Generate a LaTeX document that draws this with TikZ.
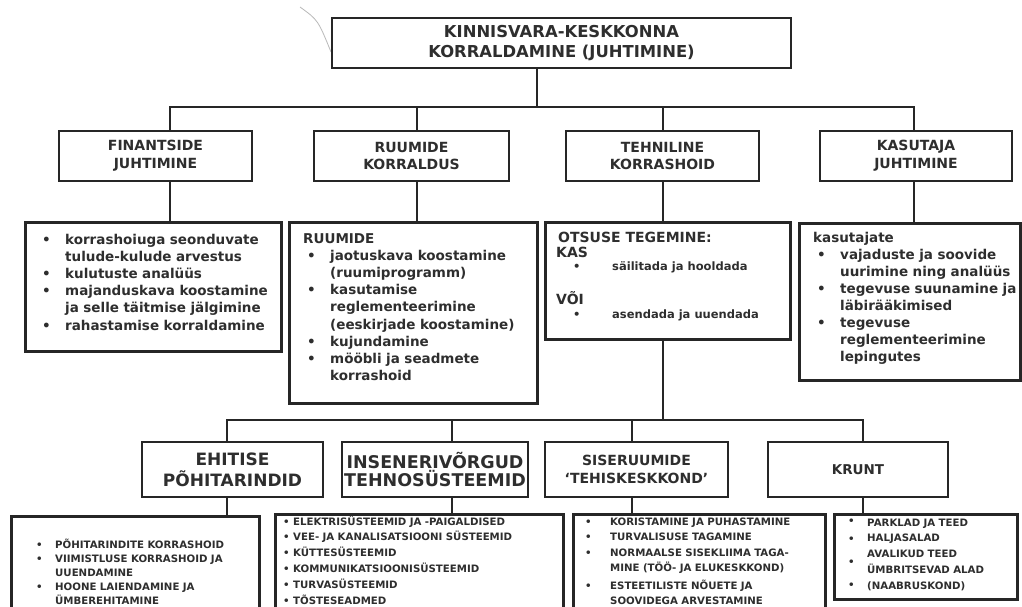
\documentclass[tikz,border=0pt]{standalone}
\usepackage{fontspec}
\setmainfont{DejaVu Sans}
\definecolor{ink}{HTML}{262626}
\definecolor{txt}{HTML}{2E2E2E}
\newlength\myind
\newlength\bulx
\newcommand\bz[1]{\hangindent=\myind\hangafter=1\noindent\makebox[\myind][l]{\hspace{\bulx}\textbullet}#1}
\newcommand\bi[1]{\par\bz{#1}}
\begin{document}
\begin{tikzpicture}[x=1pt,y=-1pt,
  box/.style={draw=ink, line width=2.7pt, rectangle, inner sep=0pt, fill=white},
  conn/.style={draw=ink, line width=2.7pt},
  hd/.style={text=txt, align=center, font=\bfseries\fontsize{14}{17.7}\selectfont},
  lt/.style={text=txt, inner sep=0pt, anchor=base west, align=left},
  lfont/.style={font=\bfseries\fontsize{13.5}{17.2}\selectfont},
  sfont/.style={font=\bfseries\fontsize{10.2}{14}\selectfont},
]
\useasboundingbox[fill=white] (0,0) rectangle (1022,607);
% scanner stroke
\draw[gray!55, line width=0.8pt] (300,7) .. controls (318,20) .. (331,52);

% ---- bus coordinates
\coordinate (b0) at (537,107);
\coordinate (b1) at (170,107);
\coordinate (b2) at (417,107);
\coordinate (b3) at (663,107);
\coordinate (b4) at (914,107);
\coordinate (d0) at (663,420);
\coordinate (d1) at (227,420);
\coordinate (d2) at (452,420);
\coordinate (d3) at (632,420);
\coordinate (d4) at (863,420);

% ---- top
\node[box, minimum width=459pt, minimum height=50pt, text=txt, align=center,
  font=\bfseries\fontsize{16.4}{20}\selectfont] (top) at (561.5,43)
  {KINNISVARA-KESKKONNA\\KORRALDAMINE (JUHTIMINE)};

% ---- row 2 headers
\node[box, hd, minimum width=193pt, minimum height=50pt] (finh) at (155.5,156) {FINANTSIDE\\JUHTIMINE};
\node[box, hd, minimum width=195pt, minimum height=50pt] (rumh) at (411.5,156) {RUUMIDE\\KORRALDUS};
\node[box, hd, minimum width=193pt, minimum height=50pt] (tehh) at (662.5,156) {TEHNILINE\\KORRASHOID};
\node[box, hd, minimum width=192pt, minimum height=50pt] (kash) at (916,156) {KASUTAJA\\JUHTIMINE};

% ---- row 3 boxes
\node[box, anchor=north west, minimum width=256pt, minimum height=129pt] (finl) at (24,221) {};
\node[box, anchor=north west, minimum width=248pt, minimum height=181pt] (ruml) at (288,221) {};
\node[box, anchor=north west, minimum width=245pt, minimum height=117pt] (tehl) at (544,221) {};
\node[box, anchor=north west, minimum width=221pt, minimum height=157pt] (kasl) at (798,222) {};

% ---- row 4 headers
\node[box, text=txt, align=center, font=\bfseries\fontsize{17}{21}\selectfont,
  minimum width=181pt, minimum height=55pt] (ehh) at (232.5,469.5) {EHITISE\\PÕHITARINDID};
\node[box, text=txt, align=center, font=\bfseries\fontsize{17.5}{14}\selectfont,
  minimum width=186pt, minimum height=55pt] (insh) at (435,469.5) {INSENERIVÕRGUD\\TEHNOSÜSTEEMID};
\node[box, hd, minimum width=183pt, minimum height=55pt] (sish) at (636.5,469.5) {SISERUUMIDE\\‘TEHISKESKKOND’};
\node[box, hd, font=\bfseries\fontsize{13.5}{17}\selectfont,
  minimum width=180pt, minimum height=55pt] (kruh) at (858,469.5) {KRUNT};

% ---- row 5 boxes
\node[box, anchor=north west, minimum width=248pt, minimum height=120pt] (ehl) at (10,515) {};
\node[box, anchor=north west, minimum width=288pt, minimum height=120pt] (insl) at (274,513) {};
\node[box, anchor=north west, minimum width=252pt, minimum height=120pt] (sisl) at (572,513) {};
\node[box, anchor=north west, minimum width=183pt, minimum height=85pt] (krul) at (833,513) {};

% ---- connectors
\draw[conn] (top.south -| b0) -- (b0);
\draw[conn] (finh.north -| b1) -- (b1) -- (b4) -- (kash.north -| b4);
\draw[conn] (rumh.north -| b2) -- (b2);
\draw[conn] (tehh.north -| b3) -- (b3);
\draw[conn] (finh.south -| b1) -- (finl.north -| b1);
\draw[conn] (rumh.south -| b2) -- (ruml.north -| b2);
\draw[conn] (tehh.south -| b3) -- (tehl.north -| b3);
\draw[conn] (kash.south -| b4) -- (kasl.north -| b4);
\draw[conn] (tehl.south -| d0) -- (d0);
\draw[conn] (ehh.north -| d1) -- (d1) -- (d4) -- (kruh.north -| d4);
\draw[conn] (insh.north -| d2) -- (d2);
\draw[conn] (sish.north -| d3) -- (d3);
\draw[conn] (ehh.south -| d1) -- (ehl.north -| d1);
\draw[conn] (insh.south -| d2) -- (insl.north -| d2);
\draw[conn] (sish.south -| d3) -- (sisl.north -| d3);
\draw[conn] (kruh.south -| d4) -- (krul.north -| d4);

% ---- row 3 texts
\node[lt, lfont, text width=236pt] (fint) at (42,244) {\setlength\myind{23pt}\setlength\bulx{0pt}%
\bz{korrashoiuga seonduvate\newline tulude-kulude arvestus}%
\bi{kulutuste analüüs}%
\bi{majanduskava koostamine\newline ja selle täitmise jälgimine}%
\bi{rahastamise korraldamine}\par};

\node[lt, lfont, text width=230pt] (rumt) at (303,243) {\setlength\myind{27pt}\setlength\bulx{4pt}%
\noindent RUUMIDE%
\bi{jaotuskava koostamine\newline (ruumiprogramm)}%
\bi{kasutamise\newline reglementeerimine\newline (eeskirjade koostamine)}%
\bi{kujundamine}%
\bi{mööbli ja seadmete\newline korrashoid}\par};

\node[lt, font=\bfseries\fontsize{14}{16}\selectfont] (t1) at (558,242) {OTSUSE TEGEMINE:};
\node[lt, font=\bfseries\fontsize{14}{16}\selectfont] (t2) at (556,257) {KAS};
\node[lt, font=\bfseries\fontsize{11.5}{14}\selectfont] (t3) at (573,270) {\textbullet};
\node[lt, font=\bfseries\fontsize{11.5}{14}\selectfont] (t4) at (612,270) {säilitada ja hooldada};
\node[lt, font=\bfseries\fontsize{14}{16}\selectfont] (t5) at (556,304) {VÕI};
\node[lt, font=\bfseries\fontsize{11.5}{14}\selectfont] (t6) at (573,318) {\textbullet};
\node[lt, font=\bfseries\fontsize{11.5}{14}\selectfont] (t7) at (612,318) {asendada ja uuendada};

\node[lt, font=\bfseries\fontsize{13.5}{17}\selectfont, text width=205pt] (kast) at (813,242) {\setlength\myind{27pt}\setlength\bulx{4pt}%
\noindent kasutajate%
\bi{vajaduste ja soovide\newline uurimine ning analüüs}%
\bi{tegevuse suunamine ja\newline läbirääkimised}%
\bi{tegevuse\newline reglementeerimine\newline lepingutes}\par};

% ---- row 5 texts
\node[lt, sfont, text width=230pt] (eht) at (36,548) {\setlength\myind{19pt}\setlength\bulx{0pt}%
\bz{PÕHITARINDITE KORRASHOID}%
\bi{VIIMISTLUSE KORRASHOID JA\newline UUENDAMINE}%
\bi{HOONE LAIENDAMINE JA\newline ÜMBEREHITAMINE}\par};

\node[lt, font=\bfseries\fontsize{10.2}{15.8}\selectfont, text width=275pt] (inst) at (283,525) {\setlength\myind{10pt}\setlength\bulx{0pt}%
\bz{ELEKTRISÜSTEEMID JA -PAIGALDISED}%
\bi{VEE- JA KANALISATSIOONI SÜSTEEMID}%
\bi{KÜTTESÜSTEEMID}%
\bi{KOMMUNIKATSIOONISÜSTEEMID}%
\bi{TURVASÜSTEEMID}%
\bi{TÕSTESEADMED}\par};

\node[lt, font=\bfseries\fontsize{10.2}{15.5}\selectfont, text width=235pt] (sist) at (585,525) {\setlength\myind{25pt}\setlength\bulx{0pt}%
\bz{KORISTAMINE JA PUHASTAMINE}%
\bi{TURVALISUSE TAGAMINE}%
\bi{NORMAALSE SISEKLIIMA TAGA-\newline MINE (TÖÖ- JA ELUKESKKOND)}\vspace{2pt}%
\bi{ESTEETILISTE NÕUETE JA\newline SOOVIDEGA ARVESTAMINE}\par};

\node[lt, font=\bfseries\fontsize{10.2}{15.75}\selectfont, text width=145pt] (krut) at (867,526)
  {PARKLAD JA TEED\\HALJASALAD\\AVALIKUD TEED\\ÜMBRITSEVAD ALAD\\(NAABRUSKOND)};
\node[lt, sfont] (kb1) at (848,524) {\textbullet};
\node[lt, sfont] (kb2) at (848,542) {\textbullet};
\node[lt, sfont] (kb3) at (848,565) {\textbullet};
\node[lt, sfont] (kb4) at (848,588) {\textbullet};
\end{tikzpicture}
\end{document}
